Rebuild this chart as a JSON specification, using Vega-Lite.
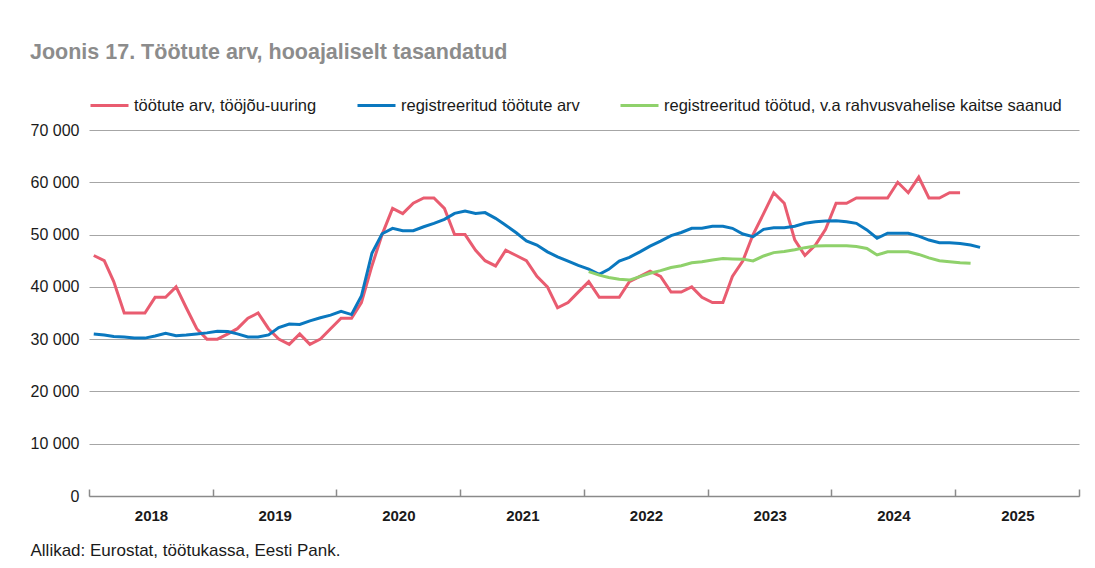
{
  "$schema": "https://vega.github.io/schema/vega-lite/v6.json",
  "width": 990,
  "height": 366,
  "autosize": "none",
  "padding": {"left": 89, "top": 130, "right": 16, "bottom": 72},
  "background": "white",
  "title": {
    "text": "Joonis 17. Töötute arv, hooajaliselt tasandatud",
    "anchor": "start",
    "frame": "group",
    "dx": -59,
    "offset": 22,
    "fontSize": 21.5,
    "fontWeight": "bold",
    "color": "#8c8c8c",
    "font": "Liberation Sans"
  },
  "config": {
    "font": "Liberation Sans",
    "view": {"stroke": null}
  },
  "data": {
    "values": [
      {"d": "2018-01-15", "a": 46000, "b": 31000, "c": null},
      {"d": "2018-02-15", "a": 45000, "b": 30800, "c": null},
      {"d": "2018-03-15", "a": 41000, "b": 30500, "c": null},
      {"d": "2018-04-15", "a": 35000, "b": 30400, "c": null},
      {"d": "2018-05-15", "a": 35000, "b": 30200, "c": null},
      {"d": "2018-06-15", "a": 35000, "b": 30200, "c": null},
      {"d": "2018-07-15", "a": 38000, "b": 30600, "c": null},
      {"d": "2018-08-15", "a": 38000, "b": 31100, "c": null},
      {"d": "2018-09-15", "a": 40000, "b": 30650, "c": null},
      {"d": "2018-10-15", "a": 36000, "b": 30800, "c": null},
      {"d": "2018-11-15", "a": 32000, "b": 31000, "c": null},
      {"d": "2018-12-15", "a": 30000, "b": 31200, "c": null},
      {"d": "2019-01-15", "a": 30000, "b": 31500, "c": null},
      {"d": "2019-02-15", "a": 31000, "b": 31450, "c": null},
      {"d": "2019-03-15", "a": 32000, "b": 31000, "c": null},
      {"d": "2019-04-15", "a": 34000, "b": 30400, "c": null},
      {"d": "2019-05-15", "a": 35000, "b": 30400, "c": null},
      {"d": "2019-06-15", "a": 32000, "b": 30800, "c": null},
      {"d": "2019-07-15", "a": 30000, "b": 32200, "c": null},
      {"d": "2019-08-15", "a": 29000, "b": 32900, "c": null},
      {"d": "2019-09-15", "a": 31000, "b": 32800, "c": null},
      {"d": "2019-10-15", "a": 29000, "b": 33500, "c": null},
      {"d": "2019-11-15", "a": 30000, "b": 34100, "c": null},
      {"d": "2019-12-15", "a": 32000, "b": 34600, "c": null},
      {"d": "2020-01-15", "a": 34000, "b": 35300, "c": null},
      {"d": "2020-02-15", "a": 34000, "b": 34700, "c": null},
      {"d": "2020-03-15", "a": 37000, "b": 38250, "c": null},
      {"d": "2020-04-15", "a": 44000, "b": 46400, "c": null},
      {"d": "2020-05-15", "a": 50000, "b": 50150, "c": null},
      {"d": "2020-06-15", "a": 55000, "b": 51200, "c": null},
      {"d": "2020-07-15", "a": 54000, "b": 50750, "c": null},
      {"d": "2020-08-15", "a": 56000, "b": 50750, "c": null},
      {"d": "2020-09-15", "a": 57000, "b": 51500, "c": null},
      {"d": "2020-10-15", "a": 57000, "b": 52150, "c": null},
      {"d": "2020-11-15", "a": 55000, "b": 52900, "c": null},
      {"d": "2020-12-15", "a": 50000, "b": 54050, "c": null},
      {"d": "2021-01-15", "a": 50000, "b": 54500, "c": null},
      {"d": "2021-02-15", "a": 47000, "b": 54050, "c": null},
      {"d": "2021-03-15", "a": 45000, "b": 54200, "c": null},
      {"d": "2021-04-15", "a": 44000, "b": 53100, "c": null},
      {"d": "2021-05-15", "a": 47000, "b": 51800, "c": null},
      {"d": "2021-06-15", "a": 46000, "b": 50350, "c": null},
      {"d": "2021-07-15", "a": 45000, "b": 48800, "c": null},
      {"d": "2021-08-15", "a": 42000, "b": 48000, "c": null},
      {"d": "2021-09-15", "a": 40000, "b": 46700, "c": null},
      {"d": "2021-10-15", "a": 36000, "b": 45750, "c": null},
      {"d": "2021-11-15", "a": 37000, "b": 44900, "c": null},
      {"d": "2021-12-15", "a": 39000, "b": 44100, "c": null},
      {"d": "2022-01-15", "a": 41000, "b": 43400, "c": 42900},
      {"d": "2022-02-15", "a": 38000, "b": 42400, "c": 42250},
      {"d": "2022-03-15", "a": 38000, "b": 43350, "c": 41800},
      {"d": "2022-04-15", "a": 38000, "b": 44950, "c": 41450},
      {"d": "2022-05-15", "a": 41000, "b": 45650, "c": 41300},
      {"d": "2022-06-15", "a": 42000, "b": 46700, "c": 41950},
      {"d": "2022-07-15", "a": 43000, "b": 47800, "c": 42600},
      {"d": "2022-08-15", "a": 42000, "b": 48750, "c": 43100},
      {"d": "2022-09-15", "a": 39000, "b": 49800, "c": 43700},
      {"d": "2022-10-15", "a": 39000, "b": 50400, "c": 44050},
      {"d": "2022-11-15", "a": 40000, "b": 51200, "c": 44600},
      {"d": "2022-12-15", "a": 38000, "b": 51200, "c": 44800},
      {"d": "2023-01-15", "a": 37000, "b": 51600, "c": 45150},
      {"d": "2023-02-15", "a": 37000, "b": 51600, "c": 45400},
      {"d": "2023-03-15", "a": 42000, "b": 51200, "c": 45350},
      {"d": "2023-04-15", "a": 45000, "b": 50100, "c": 45300},
      {"d": "2023-05-15", "a": 50000, "b": 49600, "c": 44950},
      {"d": "2023-06-15", "a": 54000, "b": 51000, "c": 45900},
      {"d": "2023-07-15", "a": 58000, "b": 51300, "c": 46550},
      {"d": "2023-08-15", "a": 56000, "b": 51300, "c": 46750},
      {"d": "2023-09-15", "a": 49000, "b": 51600, "c": 47100},
      {"d": "2023-10-15", "a": 46000, "b": 52150, "c": 47500},
      {"d": "2023-11-15", "a": 48000, "b": 52450, "c": 47800},
      {"d": "2023-12-15", "a": 51000, "b": 52600, "c": 47850},
      {"d": "2024-01-15", "a": 56000, "b": 52650, "c": 47850},
      {"d": "2024-02-15", "a": 56000, "b": 52450, "c": 47850},
      {"d": "2024-03-15", "a": 57000, "b": 52150, "c": 47700},
      {"d": "2024-04-15", "a": 57000, "b": 50900, "c": 47350},
      {"d": "2024-05-15", "a": 57000, "b": 49300, "c": 46100},
      {"d": "2024-06-15", "a": 57000, "b": 50250, "c": 46700},
      {"d": "2024-07-15", "a": 60000, "b": 50250, "c": 46700},
      {"d": "2024-08-15", "a": 58000, "b": 50250, "c": 46700},
      {"d": "2024-09-15", "a": 61000, "b": 49700, "c": 46200},
      {"d": "2024-10-15", "a": 57000, "b": 48950, "c": 45550},
      {"d": "2024-11-15", "a": 57000, "b": 48450, "c": 45000},
      {"d": "2024-12-15", "a": 58000, "b": 48450, "c": 44800},
      {"d": "2025-01-15", "a": 58000, "b": 48300, "c": 44600},
      {"d": "2025-02-15", "a": null, "b": 48000, "c": 44500},
      {"d": "2025-03-15", "a": null, "b": 47550, "c": null}
    ]
  },
  "transform": [
    {"fold": ["a", "b", "c"], "as": ["s", "v"]}
  ],
  "mark": {"type": "line", "strokeWidth": 3, "interpolate": "linear"},
  "encoding": {
    "x": {
      "field": "d",
      "type": "temporal",
      "scale": {
        "type": "utc",
        "domain": [
          {"year": 2018, "month": 1, "date": 1, "utc": true},
          {"year": 2026, "month": 1, "date": 1, "utc": true}
        ]
      },
      "axis": {
        "values": [
          {"year": 2018, "month": 1, "date": 1, "utc": true},
          {"year": 2019, "month": 1, "date": 1, "utc": true},
          {"year": 2020, "month": 1, "date": 1, "utc": true},
          {"year": 2021, "month": 1, "date": 1, "utc": true},
          {"year": 2022, "month": 1, "date": 1, "utc": true},
          {"year": 2023, "month": 1, "date": 1, "utc": true},
          {"year": 2024, "month": 1, "date": 1, "utc": true},
          {"year": 2025, "month": 1, "date": 1, "utc": true},
          {"year": 2026, "month": 1, "date": 1, "utc": true}
        ],
        "labelExpr": "utcyear(datum.value) < 2026 ? utcFormat(datum.value, '%Y') : ''",
        "labelOffset": 62,
        "labelAlign": "center",
        "labelFlush": false,
        "labelOverlap": false,
        "labelFontSize": 15,
        "labelFontWeight": "bold",
        "labelColor": "#1a1a1a",
        "labelPadding": 19,
        "grid": false,
        "domainColor": "#8a8a8a",
        "domainWidth": 1.5,
        "tickColor": "#8a8a8a",
        "tickWidth": 1.5,
        "tickSize": -7,
        "title": "Allikad: Eurostat, töötukassa, Eesti Pank.",
        "titleX": -59,
        "titleY": 59,
        "titleAlign": "left",
        "titleBaseline": "alphabetic",
        "titleFontSize": 17,
        "titleFontWeight": "normal",
        "titleColor": "#1a1a1a"
      }
    },
    "y": {
      "field": "v",
      "type": "quantitative",
      "scale": {"domain": [0, 70000], "nice": false},
      "axis": {
        "values": [0, 10000, 20000, 30000, 40000, 50000, 60000, 70000],
        "labelExpr": "replace(format(datum.value, ','), ',', ' ')",
        "domain": false,
        "ticks": false,
        "grid": true,
        "gridColor": "#a6a6a6",
        "gridWidth": 1,
        "labelFontSize": 16,
        "labelColor": "#1a1a1a",
        "labelPadding": 10,
        "title": null
      }
    },
    "color": {
      "field": "s",
      "type": "nominal",
      "scale": {"domain": ["a", "b", "c"], "range": ["#E95C70", "#0A78BF", "#8FD16B"]},
      "legend": {
        "orient": "none",
        "legendX": 0,
        "legendY": -45,
        "direction": "horizontal",
        "title": null,
        "labelExpr": "datum.label == 'a' ? 'töötute arv, tööjõu-uuring' : datum.label == 'b' ? 'registreeritud töötute arv' : 'registreeritud töötud, v.a rahvusvahelise kaitse saanud'",
        "labelLimit": 0,
        "symbolType": "stroke",
        "symbolSize": 1444,
        "symbolStrokeWidth": 3,
        "labelFontSize": 16.5,
        "labelColor": "#1a1a1a",
        "labelOffset": 4,
        "columnPadding": 34
      }
    }
  }
}
